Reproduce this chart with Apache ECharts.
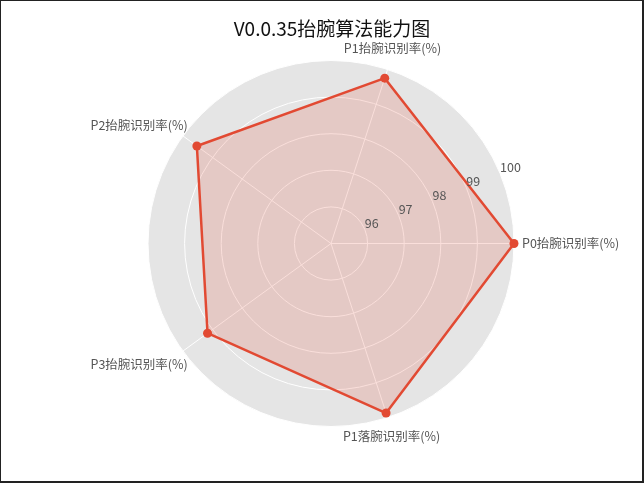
<!DOCTYPE html>
<html>
<head>
<meta charset="utf-8">
<script src="https://cdn.jsdelivr.net/npm/echarts@6/dist/echarts.min.js"></script>
<style>
  html, body { margin: 0; padding: 0; background: #fff; }
  #chart { width: 644px; height: 483px; box-sizing: border-box; border-style: solid; border-color: #222; border-width: 1px 2px 2px 1px; }
</style>
</head>
<body>
<div id="chart"></div>
<script>
const titleText = 'V0.0.35抬腕算法能力图';
const indicatorNames = ['P0抬腕识别率(%)', 'P1抬腕识别率(%)', 'P2抬腕识别率(%)', 'P3抬腕识别率(%)', 'P1落腕识别率(%)'];
const seriesValues = [100, 99.75, 99.53, 99.17, 99.87];
const radialMin = 95;
const radialMax = 100;
const radialStep = 1;

const FONT = '"Noto Sans CJK SC", "Noto Sans", sans-serif';
const CX = 330, CY = 242.5, R = 183;

// per-indicator label placement (mimicking the reference layout)
const nameLayouts = [
  { gap: 8,  align: 'left',   verticalAlign: 'middle', padding: [0, 0, 0, 0] },
  { gap: 16, align: 'center', verticalAlign: 'bottom', padding: [0, 0, 0, 0] },
  { gap: -6, align: 'right',  verticalAlign: 'bottom', padding: [0, 0, 8, 0] },
  { gap: -6, align: 'right',  verticalAlign: 'top',    padding: [10, 0, 0, 0] },
  { gap: 13, align: 'center', verticalAlign: 'top',    padding: [0, 0, 0, 0] }
];

const chart = echarts.init(document.getElementById('chart'), null, { renderer: 'canvas' });
chart.setOption({
  animation: false,
  backgroundColor: '#fff',
  title: {
    text: titleText,
    left: 326,
    textAlign: 'center',
    top: 13,
    textStyle: { fontFamily: FONT, fontSize: 19, fontWeight: 'normal', color: '#111' }
  },
  radar: {
    center: [CX, CY],
    radius: R,
    startAngle: 0,
    shape: 'circle',
    splitNumber: (radialMax - radialMin) / radialStep,
    indicator: indicatorNames.map((n, i) => ({
      name: n,
      min: radialMin,
      max: radialMax,
      nameGap: nameLayouts[i].gap,
      nameTextStyle: {
        align: nameLayouts[i].align,
        verticalAlign: nameLayouts[i].verticalAlign,
        padding: nameLayouts[i].padding
      }
    })),
    axisName: { color: '#555', fontFamily: FONT, fontSize: 12.5 },
    splitArea: { show: true, areaStyle: { color: ['#E5E5E5'] } },
    splitLine: { show: true, lineStyle: { color: '#ffffff', width: 1 } },
    axisLine: { show: true, lineStyle: { color: '#ffffff', width: 1 } },
    axisTick: { show: false },
    axisLabel: { show: false }
  },
  polar: { center: [CX, CY], radius: R },
  angleAxis: {
    type: 'value',
    startAngle: 22.5,
    show: true,
    axisLine: { show: false },
    axisTick: { show: false },
    axisLabel: { show: false },
    splitLine: { show: false }
  },
  radiusAxis: {
    type: 'value',
    min: radialMin,
    max: radialMax,
    interval: radialStep,
    axisLine: { show: false },
    axisTick: { show: false },
    splitLine: { show: false },
    z: 10,
    axisLabel: {
      show: true,
      showMinLabel: false,
      margin: 0,
      align: 'left',
      verticalAlign: 'bottom',
      color: '#555',
      fontFamily: FONT,
      fontSize: 12.5
    }
  },
  series: [{
    type: 'radar',
    z: 3,
    symbol: 'circle',
    symbolSize: 9,
    lineStyle: { color: '#E24A33', width: 2.5 },
    itemStyle: { color: '#E24A33' },
    areaStyle: { color: 'rgba(226,74,51,0.25)' },
    data: [{ value: seriesValues, name: titleText }]
  }]
});
</script>
</body>
</html>
